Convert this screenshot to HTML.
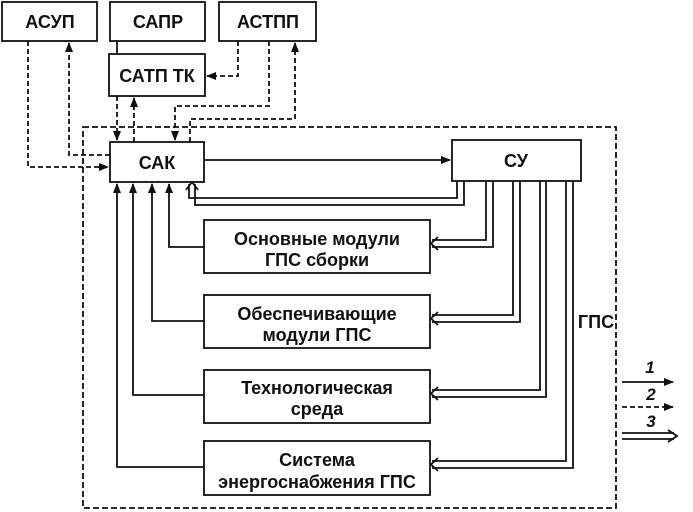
<!DOCTYPE html>
<html><head><meta charset="utf-8"><style>
body{margin:0;background:#fff}
svg{display:block}
text{font-family:"Liberation Sans",sans-serif;fill:#111}
</style></head><body>
<svg width="693" height="512" viewBox="0 0 693 512" xmlns="http://www.w3.org/2000/svg">
<defs>
<marker id="a" markerWidth="10" markerHeight="8" refX="9" refY="4" orient="auto" markerUnits="userSpaceOnUse"><path d="M0,0 L10,4 L0,8 z" fill="#111"/></marker>
</defs>
<g fill="none" stroke="#111" stroke-width="1.8">
<rect x="83" y="127" width="533" height="381" stroke-dasharray="6,3"/>
<rect x="2" y="2" width="95" height="39" fill="#fff"/>
<rect x="110" y="2" width="95" height="39"/>
<rect x="219" y="2" width="97" height="39"/>
<rect x="109" y="54" width="96" height="42" fill="#fff"/>
<rect x="110" y="142" width="94" height="40" fill="#fff"/>
<rect x="452" y="140" width="129" height="41" fill="#fff"/>
<rect x="204" y="220" width="226" height="53"/>
<rect x="204" y="295" width="226" height="53"/>
<rect x="204" y="370" width="226" height="53"/>
<rect x="204" y="441" width="226" height="54"/>
<line x1="117" y1="41" x2="117" y2="54"/>
</g>
<g fill="none" stroke="#111" stroke-width="1.8" stroke-dasharray="5,3">
<path d="M28,41 V167 H108" marker-end="url(#a)"/>
<path d="M110,155 H69 V43" marker-end="url(#a)"/>
<path d="M238,41 V76 H207" marker-end="url(#a)"/>
<path d="M269,41 V106 H175 V140" marker-end="url(#a)"/>
<path d="M190,142 V119 H295 V43" marker-end="url(#a)"/>
<path d="M117,96 V140" marker-end="url(#a)"/>
<path d="M134,142 V98" marker-end="url(#a)"/>
<path d="M622,407 H673" marker-end="url(#a)"/>
</g>
<g fill="none" stroke="#111" stroke-width="1.8">
<path d="M204,160 H450" marker-end="url(#a)"/>
<path d="M204,247 H169 V184" marker-end="url(#a)"/>
<path d="M204,321 H152 V184" marker-end="url(#a)"/>
<path d="M204,395 H133 V184" marker-end="url(#a)"/>
<path d="M204,467 H117 V184" marker-end="url(#a)"/>
<path d="M622,382 H673" marker-end="url(#a)"/>
<path d="M457,181 V198 H189 V184"/>
<path d="M464,181 V205 H195 V184"/>
<path d="M186,190 L192,182 L198,190"/>
<path d="M486,181 V240 H432"/>
<path d="M493,181 V247 H432"/>
<path d="M438,237 L431,243.5 L438,250"/>
<path d="M513,181 V315 H432"/>
<path d="M520,181 V322 H432"/>
<path d="M438,312 L431,318.5 L438,325"/>
<path d="M540,181 V390 H432"/>
<path d="M546,181 V397 H432"/>
<path d="M438,387 L431,393.5 L438,400"/>
<path d="M566,181 V461 H432"/>
<path d="M573,181 V468 H432"/>
<path d="M438,458 L431,464.5 L438,471"/>
<path d="M622,433 H674"/>
<path d="M622,439 H674"/>
<path d="M668,430 L677,436 L668,442"/>
</g>
<g font-size="18" font-weight="bold" text-anchor="middle">
<text x="50" y="28">АСУП</text>
<text x="158" y="28">САПР</text>
<text x="268" y="28">АСТПП</text>
<text x="157" y="82">САТП ТК</text>
<text x="157" y="169">САК</text>
<text x="516" y="167">СУ</text>
<text x="317" y="245">Основные модули</text>
<text x="317" y="266">ГПС сборки</text>
<text x="317" y="320">Обеспечивающие</text>
<text x="317" y="341">модули ГПС</text>
<text x="317" y="394">Технологическая</text>
<text x="317" y="415">среда</text>
<text x="317" y="466">Система</text>
<text x="317" y="488">энергоснабжения ГПС</text>
<text x="596" y="328">ГПС</text>
</g>
<g font-size="17" font-weight="bold" font-style="italic" text-anchor="middle">
<text x="650" y="373">1</text>
<text x="651" y="400">2</text>
<text x="651" y="427">3</text>
</g>
</svg>
</body></html>
